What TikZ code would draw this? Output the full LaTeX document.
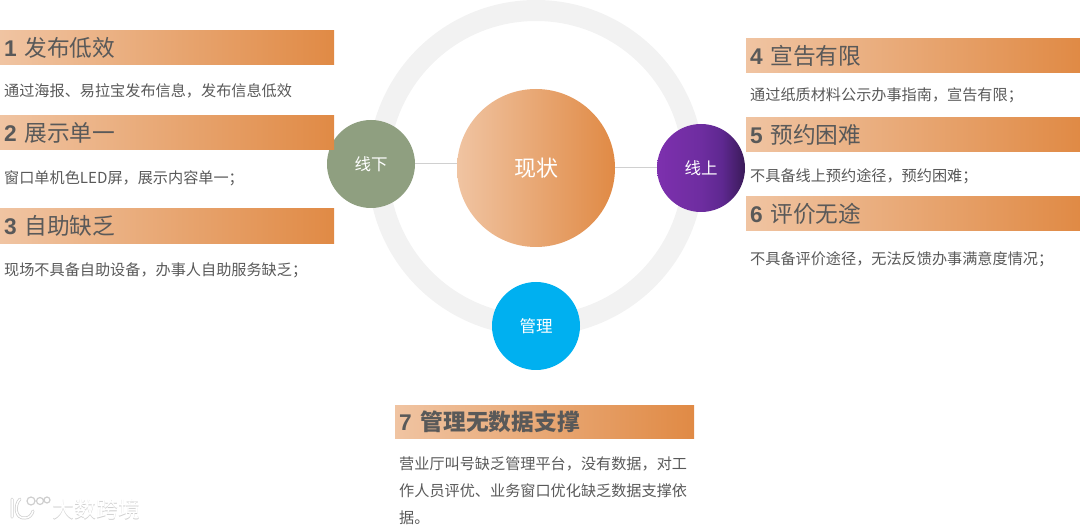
\documentclass[tikz,border=0pt]{standalone}
\usepackage{fontspec}
\setmainfont{Noto Sans CJK SC}
\newfontfamily\numfont{Liberation Sans}
\usetikzlibrary{calc}
\definecolor{barlight}{HTML}{F0C4A2}
\definecolor{bardark}{HTML}{E08A45}
\definecolor{ringgray}{HTML}{F2F2F2}
\definecolor{linegray}{HTML}{D0D0D0}
\definecolor{textgray}{HTML}{595959}
\definecolor{offgreen}{HTML}{8F9F80}
\definecolor{mgmtblue}{HTML}{00B0F0}
\definecolor{marklight}{HTML}{CFCFCF}
\definecolor{purpleA}{HTML}{7D30AE}
\definecolor{purpleB}{HTML}{6E2DA0}
\definecolor{purpleC}{HTML}{5E2890}
\definecolor{purpleD}{HTML}{3A1A58}
\pgfdeclarehorizontalshading{onlinefade}{100bp}{
  color(0bp)=(purpleA);color(25bp)=(purpleA);color(50bp)=(purpleB);
  color(62bp)=(purpleC);color(75bp)=(purpleD);color(100bp)=(purpleD)}
\begin{document}
\begin{tikzpicture}[
    x=1pt, y=-1pt,
    bar/.style={rectangle, anchor=north west, left color=barlight, right color=bardark,
      minimum height=34.5pt, inner xsep=4pt, inner ysep=0pt, align=left,
      text=textgray, font=\fontsize{22.7}{24}\selectfont},
    sidebar/.style={bar, minimum width=334pt, text width=326pt},
    body/.style={anchor=west, inner sep=0pt, align=left, text=textgray,
      font=\fontsize{15.15}{27}\selectfont},
    hub/.style={circle, minimum size=88pt, inner sep=0pt, text=white,
      font=\fontsize{16.5}{18}\selectfont},
    link/.style={line width=1pt, linegray},
    wmark/.style={inner sep=0pt, anchor=west, font=\fontsize{22}{24}\selectfont}
]

\useasboundingbox (0,0) rectangle (1080,529);

\pgfmathsetmacro{\RingRad}{157.5}
\coordinate (C) at (536,168);

% Ring
\draw[line width=21pt, ringgray] (C) circle (\RingRad);

% Centre and side circles
\node[circle, minimum size=158pt, inner sep=0pt, left color=barlight, right color=bardark,
  text=white, font=\fontsize{22}{24}\selectfont] (status) at (C) {\raisebox{-1pt}{现状}};
\node[hub, fill=offgreen] (offline) at (371,164) {\raisebox{-1pt}{线下}};
\node[hub, shading=onlinefade] (online) at (701,168) {\raisebox{-1pt}{线上}};
\node[hub, fill=mgmtblue] (mgmt) at (536,326) {\raisebox{-1pt}{管理}};

% Links
\draw[link] (offline.east) -- (offline.east -| status.west);
\draw[link] (online.west) -- (online.west -| status.east);

% Left column
\node[sidebar] (bar1) at (0,30) {{\numfont\bfseries 1} 发布低效};
\node[body] (txt1) at (4,91) {通过海报、易拉宝发布信息，发布信息低效};
\node[sidebar] (bar2) at (0,115) {{\numfont\bfseries 2} 展示单一};
\node[body] (txt2) at (4,178) {窗口单机色LED屏，展示内容单一；};
\node[sidebar] (bar3) at (0,208.5) {{\numfont\bfseries 3} 自助缺乏};
\node[body] (txt3) at (4,270) {现场不具备自助设备，办事人自助服务缺乏；};

% Right column
\node[sidebar] (bar4) at (746,38) {{\numfont\bfseries 4} 宣告有限};
\node[body] (txt4) at (750,95) {通过纸质材料公示办事指南，宣告有限；};
\node[sidebar] (bar5) at (746,117) {{\numfont\bfseries 5} 预约困难};
\node[body] (txt5) at (750,176) {不具备线上预约途径，预约困难；};
\node[sidebar] (bar6) at (746,196) {{\numfont\bfseries 6} 评价无途};
\node[body] (txt6) at (750,259) {不具备评价途径，无法反馈办事满意度情况；};

% Bottom block
\node[bar, minimum width=299pt, text width=291pt, minimum height=33pt] (bar7) at (395,405)
  {{\numfont\bfseries 7}\hspace{1.5pt} \textbf{管理无数据支撑}};
\node[body] (txt7) at (399,491) {营业厅叫号缺乏管理平台，没有数据，对工\\作人员评优、业务窗口优化缺乏数据支撑依\\据。};

% Watermark
\node[wmark, text=marklight] (marktxt) at (52.7,509.7) {大数跨境};
\node[wmark, text=white] (marktop) at (52,509) {大数跨境};
\draw[line width=3pt, marklight, line cap=round] (12,499) -- (12,517)
  (20,499) .. controls (14,505) and (15,519) .. (25,518) .. controls (29,518) and (32,515) .. (33,511);
\draw[line width=1.5pt, white, line cap=round] (12,499) -- (12,517)
  (20,499) .. controls (14,505) and (15,519) .. (25,518) .. controls (29,518) and (32,515) .. (33,511);
\draw[line width=1.2pt, marklight] (31,501) circle (4) (40,501) circle (3.5) (47,500) circle (3);

\end{tikzpicture}
\end{document}
